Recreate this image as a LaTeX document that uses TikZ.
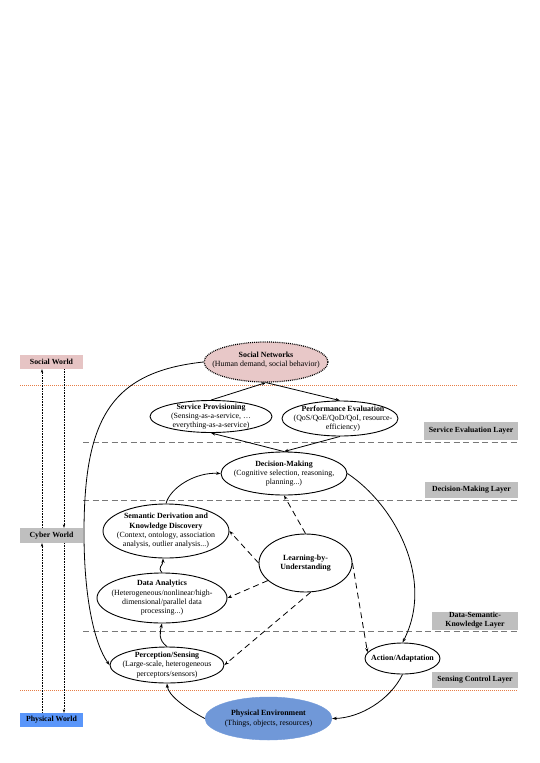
\documentclass[tikz,border=0pt]{standalone}
\usepackage{fontspec}
\setmainfont{Liberation Serif}
\usetikzlibrary{shapes.geometric,arrows.meta}
\definecolor{swpink}{RGB}{230,196,196}
\definecolor{snpink}{RGB}{232,200,200}
\definecolor{cwgrey}{RGB}{191,191,191}
\definecolor{pwblue}{RGB}{90,150,250}
\definecolor{peblue}{RGB}{112,152,216}
\definecolor{orline}{RGB}{230,125,70}
\definecolor{dashgrey}{RGB}{120,120,120}
\begin{document}
\begin{tikzpicture}[x=1pt,y=-1pt,
  ell/.style={ellipse,draw,line width=0.9pt,inner sep=0pt},
  txt/.style={align=center,inner sep=0pt,font=\fontsize{7.9}{9.3}\selectfont},
  wbox/.style={inner sep=0pt,align=center,font=\fontsize{7.8}{9}\selectfont\bfseries},
  arr/.style={line width=0.8pt,-{Stealth[length=4.5pt,width=3.2pt]}},
  darr/.style={arr,dash pattern=on 6pt off 4pt},
  varr/.style={line width=0.45pt,dash pattern=on 0.8pt off 0.8pt,-{Stealth[length=3.5pt,width=2.4pt]}},
  orl/.style={orline,line width=0.6pt,dash pattern=on 1pt off 1pt},
  gl/.style={dashgrey,line width=0.8pt,dash pattern=on 6pt off 3.5pt}]
\useasboundingbox (0,0) rectangle (539,763);
\fill[white] (0,0) rectangle (539,763);

% layer separator lines
\draw[orl] (20,385) -- (518,385);
\draw[gl] (83,442) -- (518,442);
\draw[gl] (83,500.5) -- (518,500.5);
\draw[gl] (83,631.5) -- (518,631.5);
\draw[orl] (20,690) -- (518,690);

% world boxes
\node[wbox,fill=swpink,minimum width=63pt,minimum height=14pt] (sw) at (51.5,362) {Social World};
\node[wbox,fill=cwgrey,minimum width=63pt,minimum height=15pt] (cw) at (51.5,535.5) {Cyber World};
\node[wbox,fill=pwblue,minimum width=63pt,minimum height=14pt] (pw) at (51.5,720) {Physical World};

\draw[varr] ([xshift=-9.5pt]pw.north) -- ([xshift=-9.5pt]cw.south);
\draw[varr] ([xshift=-9.5pt]cw.north) -- ([xshift=-9.5pt]sw.south);
\draw[varr] ([xshift=12.5pt]sw.south) -- ([xshift=12.5pt]cw.north);
\draw[varr] ([xshift=12.5pt]cw.south) -- ([xshift=12.5pt]pw.north);

% layer labels
\node[wbox,fill=cwgrey,minimum width=94pt,minimum height=18pt] (sel) at (471,431) {Service Evaluation Layer};
\node[wbox,fill=cwgrey,minimum width=93pt,minimum height=16pt] (dml) at (471.5,490) {Decision-Making Layer};
\node[wbox,fill=cwgrey,minimum width=86pt,minimum height=18pt,font=\fontsize{7.8}{8.8}\selectfont\bfseries] (dsk) at (475,620.5) {Data-Semantic-\\Knowledge Layer};
\node[wbox,fill=cwgrey,minimum width=86pt,minimum height=16pt] (scl) at (475,680) {Sensing Control Layer};

% ellipses
\node[ell,fill=snpink,densely dotted,line width=1.2pt,minimum width=124pt,minimum height=40pt] (sn) at (266,362) {};
\node[ell,minimum width=122pt,minimum height=32pt] (sp) at (211,416.5) {};
\node[ell,minimum width=116pt,minimum height=35pt] (pe) at (340,418.5) {};
\node[ell,minimum width=126pt,minimum height=43pt] (dm) at (284,473.5) {};
\node[ell,minimum width=126pt,minimum height=54pt] (sd) at (166,531) {};
\node[ell,minimum width=93pt,minimum height=58pt] (lbu) at (305.5,563) {};
\node[ell,minimum width=130pt,minimum height=50pt] (da) at (162,598) {};
\node[ell,minimum width=114pt,minimum height=36pt] (ps) at (167,665) {};
\node[ell,minimum width=75pt,minimum height=31pt] (aa) at (402.5,658.5) {};
\node[ellipse,draw=peblue,fill=peblue,inner sep=0pt,minimum width=127pt,minimum height=43pt] (phe) at (268.5,718.5) {};

% ellipse texts
\node[txt] (snt) at ([yshift=2pt]sn.center) {\textbf{Social Networks}\\(Human demand, social behavior)};
\node[txt] (spt) at (sp.center) {\textbf{Service Provisioning}\\(Sensing-as-a-service, …\\everything-as-a-service)};
\node[txt] (pet) at ([xshift=3pt]pe.center) {\textbf{Performance Evaluation}\\(QoS/QoE/QoD/QoI, resource-\\efficiency)};
\node[txt] (dmt) at (dm.center) {\textbf{Decision-Making}\\(Cognitive selection, reasoning,\\planning...)};
\node[txt] (sdt) at (sd.center) {\textbf{Semantic Derivation and}\\\textbf{Knowledge Discovery}\\(Context, ontology, association\\analysis, outlier analysis...)};
\node[txt] (lbut) at (lbu.center) {\textbf{Learning-by-}\\\textbf{Understanding}};
\node[txt] (dat) at (da.center) {\textbf{Data Analytics}\\(Heterogeneous/nonlinear/high-\\dimensional/parallel data\\processing...)};
\node[txt] (pst) at (ps.center) {\textbf{Perception/Sensing}\\(Large-scale, heterogeneous\\perceptors/sensors)};
\node[txt] (aat) at (aa.center) {\textbf{Action/Adaptation}};
\node[txt] (phet) at (phe.center) {\textbf{Physical Environment}\\(Things, objects, resources)};

% solid connectors
\coordinate (lb) at (84,533);
\draw[arr] (sn.west) .. controls (110,372) and (84,420) .. (lb) .. controls (84,600) and (95,645) .. (ps.west);
\draw[arr] (sp.north) -- (sn.south);
\draw[arr] (sn.south) -- (pe.north);
\draw[arr] (dm.north) -- (sp.south);
\draw[arr] (pe.south) -- (dm.north);
\draw[arr] (sd.north) .. controls (170,488) and (195,472) .. (dm.west);
\draw[arr] (da.north) .. controls (157,567) and (163,566) .. ([xshift=-3pt]sd.south);
\draw[arr] (ps.north) .. controls (158,640) and (160,632) .. (da.south);
\draw[arr] (phe.west) .. controls (185,708) and (168,695) .. (ps.south);
\draw[arr] (dm.east) .. controls (395,505) and (435,580) .. (aa.north);
\draw[arr] (aa.south) .. controls (390,700) and (360,718) .. (phe.east);

% dashed connectors
\draw[darr] (lbu.north) -- (dm.south);
\draw[darr] (lbu.west) -- (sd.east);
\draw[darr] (lbu.205) -- (da.east);
\draw[darr] (lbu.280) -- (ps.east);
\draw[darr] (lbu.east) -- (aa.170);
\end{tikzpicture}
\end{document}
